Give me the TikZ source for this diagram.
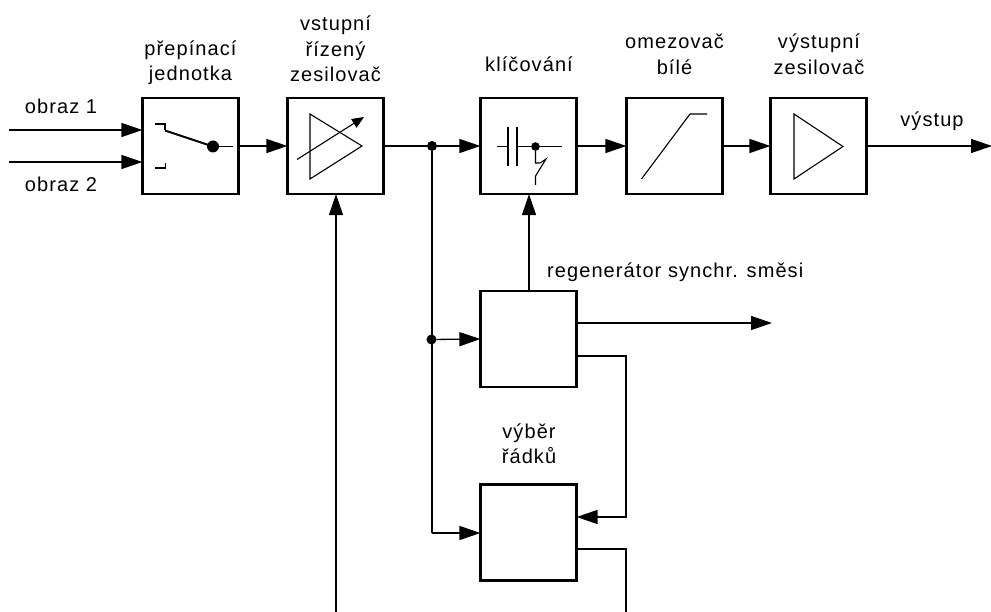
\documentclass[tikz,border=0pt]{standalone}
\usepackage{fontspec}
\setmainfont[LetterSpace=5.4]{Liberation Sans}
\usetikzlibrary{arrows.meta}
\tikzset{
  x=1pt,y=-1pt,
  blk/.style={draw,line width=2.2pt,minimum size=96pt,inner sep=0pt,line join=miter},
  wire/.style={line width=1.3pt},
  flow/.style={wire,-{Triangle[length=21pt,width=14pt]},shorten >=-1pt},
  sym/.style={line width=1.1pt},
  thick sym/.style={line width=2pt},
  dot/.style={circle,fill=black,inner sep=0pt,minimum size=10pt},
  lab/.style={font=\fontsize{20}{25.5}\selectfont,align=center,inner sep=0pt,anchor=south},
}
\begin{document}
\begin{tikzpicture}
\useasboundingbox (0,0) rectangle (991,612);
\fill[white] (0,0) rectangle (991,612);
\node[blk] (sw) at (190.5,146) {};
\node[blk] (amp) at (335.5,146) {};
\node[blk] (key) at (528.5,146) {};
\node[blk] (lim) at (674.5,146) {};
\node[blk] (out) at (818.5,146) {};
\node[blk] (reg) at (528.5,339) {};
\node[blk] (sel) at (528.5,532.5) {};
\coordinate (in1) at (9,130);
\coordinate (in2) at (9,162);
\coordinate (end) at (991,146);
\coordinate (regout) at (771,323);
\coordinate (ampbot) at (336,612);
\coordinate (keyin) at (529,339);
\coordinate (selbot) at (626,612);
\coordinate (r1) at (626,356);
\coordinate (r2) at (626,517);
\coordinate (s1) at (626,549);
\node[dot] (j1) at (432,146) {};
\node[dot] (j2) at (431.5,339.5) {};
\coordinate (j3) at (432,533);
% labels
\node[lab] (tin1) at (61,113.5) {obraz 1};
\node[lab] (tin2) at (61,192) {obraz 2};
\node[lab] (tsw) at (190.5,85) {přepínací\\jednotka};
\node[lab] (tamp) at (335.5,82) {vstupní\\řízený\\zesilovač};
\node[lab] (tkey) at (529,72) {klíčování};
\node[lab] (tlim) at (674.5,74.5) {omezovač\\bílé};
\node[lab] (tout) at (819,74.5) {výstupní\\zesilovač};
\node[lab] (tvy) at (932,131) {výstup};
\node[lab,anchor=south west] (treg) at (547,282) {regenerátor synchr. směsi};
\node[lab] (tsel) at (529,464) {výběr\\řádků};
% connectors
\draw[flow] (in1) -- (sw.west |- in1);
\draw[flow] (in2) -- (sw.west |- in2);
\draw[flow] (sw) ++(48,0) -- (amp.west);
\draw[wire] (amp.east) -- (j1);
\draw[flow] (j1) -- (key.west);
\draw[flow] (key.east) -- (lim.west);
\draw[flow] (lim.east) -- (out.west);
\draw[flow] (out.east) -- (end);
\draw[flow] (ampbot) -- (ampbot |- amp.south);
\draw[flow] (keyin |- reg.north) -- (keyin |- key.south);
\draw[wire] (j1) -- (j3);
\draw[flow] (j2) -- (reg.west);
\draw[flow] (j3) -- (sel.west |- j3);
\draw[flow] (reg.east |- regout) -- (regout);
\draw[flow] (reg.east |- r1) -- (r1) -- (r2) -- (sel.east |- r2);
\draw[wire] (sel.east |- s1) -- (s1) -- (selbot);
% switch symbol
\draw[sym] (155,124) -- (165,124) -- (165,130.5);
\draw[thick sym] (165,130.5) -- (213,146.5);
\draw[sym] (155,168) -- (165.5,168) -- (165.5,163);
\fill (213,146.5) circle (6);
\draw[sym] (213,146.5) -- (233,146.5);
% controlled amplifier symbol
\draw[sym] (310,114) -- (362,146) -- (310,179) -- cycle;
\draw[sym,-{Triangle[length=12pt,width=10pt]}] (297,159.5) -- (364,117);
% keying symbol
\draw[sym] (496.5,146.5) -- (508,146.5);
\draw[line width=2.4pt] (508,127) -- (508,166);
\draw[line width=2.4pt] (517,127) -- (517,166);
\draw[sym] (517,146.5) -- (562,146.5);
\fill (535.5,146.5) circle (4.3);
\draw[sym] (535.5,146.5) -- (535.5,163) -- (540,163) -- (546,159) -- (535.5,176) -- (535.5,185);
% limiter symbol
\draw[sym] (641.5,179) -- (690,114) -- (707,114);
% output amplifier symbol
\draw[sym] (794,114) -- (843,146.5) -- (794,179) -- cycle;
\end{tikzpicture}
\end{document}
